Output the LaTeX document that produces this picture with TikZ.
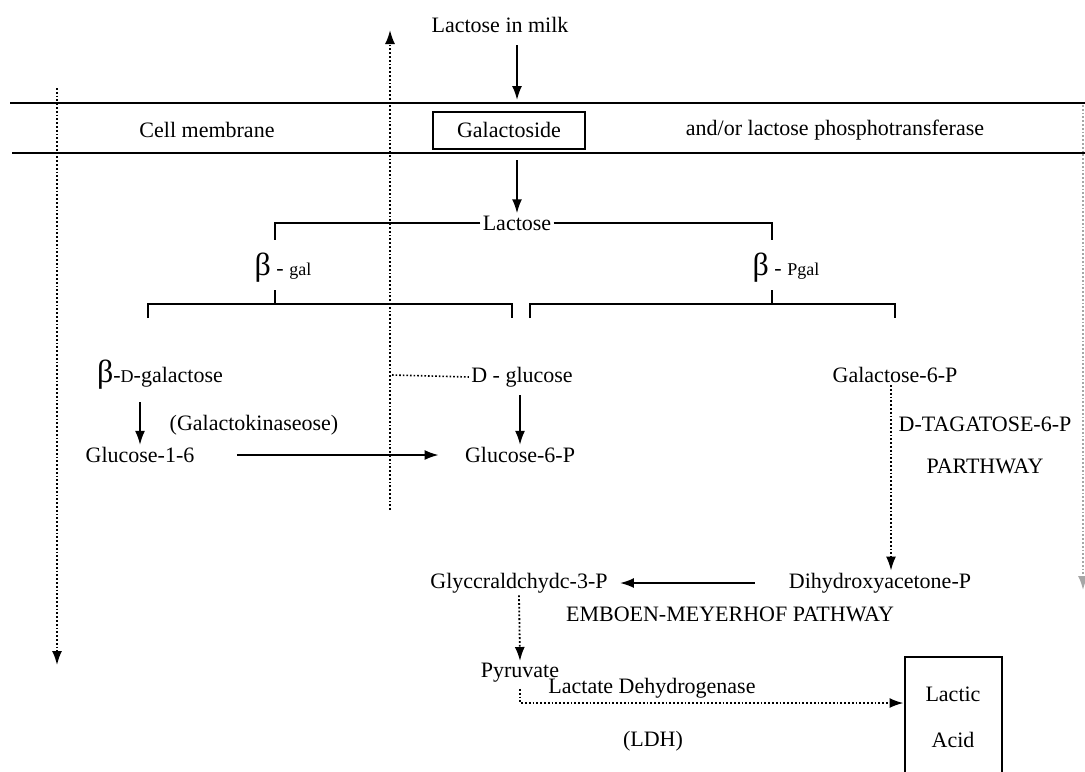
\documentclass[tikz,border=0pt]{standalone}
\usepackage{fontspec}
\setmainfont{Liberation Serif}
\usetikzlibrary{arrows.meta, positioning}
\tikzset{
  txt/.style={font=\fontsize{11}{13}\selectfont, inner sep=1pt, align=center},
  box/.style={rectangle, draw, line width=1pt,
    font=\fontsize{11}{13}\selectfont, align=center},
  arrow/.style={-{Latex[length=7pt,width=5pt]}, line width=0.9pt},
  dotarrow/.style={densely dotted, -{Latex[length=7pt,width=5pt]}, line width=0.9pt},
  dotline/.style={densely dotted, line width=0.8pt},
  bracket/.style={line width=1pt},
  membrane/.style={line width=1.1pt},
}
\newcommand{\bsym}{{\fontsize{16}{16}\selectfont β}}
\newcommand{\smalltxt}[1]{{\fontsize{9}{9}\selectfont #1}}

\begin{document}
\begin{tikzpicture}[x=0.5pt, y=-0.5pt]
  \useasboundingbox (0,0) rectangle (1085,771);

  % cell membrane
  \draw[membrane] (10,103) -- (1085,103);
  \draw[membrane] (12,153) -- (1085,153);
  \node[txt] (milk) at (500,25) {Lactose in milk};
  \node[box, minimum width=76pt, minimum height=18.5pt] (galac) at (509,130) {Galactoside};
  \node[txt] (cellmem) at (207,130) {Cell membrane};
  \node[txt] (phospho) at (835,130) {and/or lactose phosphotransferase};

  \coordinate (memout) at (517,45);
  \coordinate (memin) at (517,100);
  \draw[arrow] (memout) -- (memin);

  % hydrolysis
  \node[txt] (lactose) at (517,223) {Lactose};
  \draw[arrow] (517,160) -- (lactose.north);
  \node[txt] (bgal) at (283,268) {\bsym{} - \smalltxt{gal}};
  \node[txt] (bpgal) at (786,268) {\bsym{} - \smalltxt{Pgal}};
  \draw[bracket] (lactose.west) -| (275,240);
  \draw[bracket] (lactose.east) -| (772,240);
  \draw[bracket] (275,290) -- (275,304);
  \draw[bracket] (772,290) -- (772,304);
  \draw[bracket] (148,318) |- (512,304) -- (512,318);
  \draw[bracket] (530,318) |- (895,304) -- (895,318);

  \node[txt] (dgalac) at (160,375) {\bsym-\smalltxt{D}-galactose};
  \node[txt] (dgluc) at (522,377) {D - glucose};
  \node[txt] (gal6p) at (895,375) {Galactose-6-P};
  \node[txt] (kinase) at (254,425) {(Galactokinaseose)};
  \node[txt] (glc16) at (140,455) {Glucose-1-6};
  \node[txt] (glc6p) at (520,455) {Glucose-6-P};

  \draw[arrow] (dgalac.south -| glc16) ++(0,10) -- (glc16.north);
  \draw[dotline] (392,375) -- (dgluc.west);
  \draw[arrow] (dgluc.south -| glc6p) ++(0,6) -- (glc6p.north);
  \draw[arrow, shorten <=20pt, shorten >=12pt] (glc16.east) -- (glc6p.west);

  % tagatose pathway
  \node[txt] (tagat) at (985,445) {D-TAGATOSE-6-P\\[8pt]PARTHWAY};
  \node[txt] (dhap) at (880,583) {Dihydroxyacetone-P};
  \node[txt] (g3p) at (519,583) {Glyccraldchydc-3-P};
  \draw[dotarrow] (gal6p.south -| 891,0) -- (dhap.north -| 891,0);
  \draw[arrow, shorten <=16pt, shorten >=5pt] (dhap.west) -- (g3p.east);

  % glycolysis
  \node[txt] (emp) at (730,614) {EMBOEN-MEYERHOF PATHWAY};
  \node[txt] (pyruvate) at (520,673) {Pyruvate};
  \draw[dotarrow] (g3p.south) -- (pyruvate.north);

  \begin{scope}
    \clip (0,0) rectangle (1085,771);
    \node[box, minimum width=48.5pt, minimum height=60pt] (lactic) at (953,717)
      {Lactic\\[10pt]Acid};
  \end{scope}
  \coordinate (ldhin) at (lactic.west |- 0,703);
  \draw[dotarrow] (pyruvate.south) ++(0,4) |- (ldhin);
  \node[txt] (ldh) at (652,688) {Lactate Dehydrogenase};
  \node[txt] (ldhabbr) at (653,741) {(LDH)};

  % transport
  \draw[dotarrow] (57,88) -- (57,665);
  \draw[dotarrow] (390,510) -- (390,30);
  \draw[dotarrow, black!35] (1083,105) -- (1083,590);
\end{tikzpicture}
\end{document}
